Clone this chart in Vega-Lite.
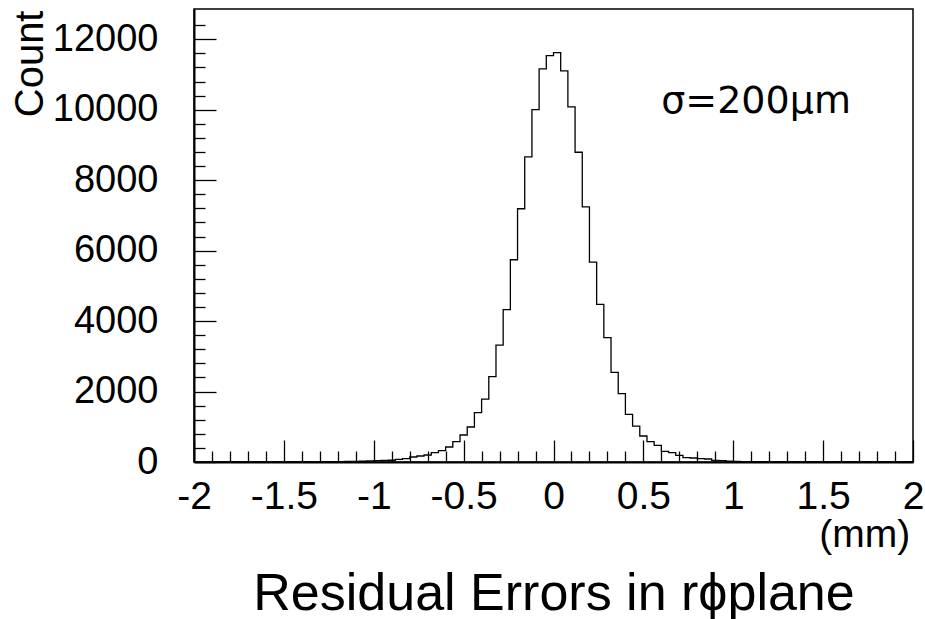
{
  "$schema": "https://vega.github.io/schema/vega-lite/v6.json",
  "width": 719,
  "height": 453,
  "autosize": "none",
  "padding": {"left": 194, "top": 9, "right": 12, "bottom": 157},
  "background": "white",
  "config": {"view": {"stroke": "black", "strokeWidth": 1.5}, "font": "Liberation Sans"},
  "layer": [
    {
      "data": {"values": [
        {"x": -2, "count": 0}, {"x": -1.96, "count": 0}, {"x": -1.92, "count": 0}, {"x": -1.88, "count": 0}, {"x": -1.84, "count": 0},
        {"x": -1.8, "count": 0}, {"x": -1.76, "count": 0}, {"x": -1.72, "count": 0}, {"x": -1.68, "count": 1}, {"x": -1.64, "count": 0},
        {"x": -1.6, "count": 1}, {"x": -1.56, "count": 1}, {"x": -1.52, "count": 2}, {"x": -1.48, "count": 1}, {"x": -1.44, "count": 2},
        {"x": -1.4, "count": 3}, {"x": -1.36, "count": 3}, {"x": -1.32, "count": 5}, {"x": -1.28, "count": 8}, {"x": -1.24, "count": 10},
        {"x": -1.2, "count": 12}, {"x": -1.16, "count": 15}, {"x": -1.12, "count": 18}, {"x": -1.08, "count": 22}, {"x": -1.04, "count": 30},
        {"x": -1, "count": 38}, {"x": -0.96, "count": 42}, {"x": -0.92, "count": 50}, {"x": -0.88, "count": 77}, {"x": -0.84, "count": 96},
        {"x": -0.8, "count": 142}, {"x": -0.76, "count": 170}, {"x": -0.72, "count": 199}, {"x": -0.68, "count": 267}, {"x": -0.64, "count": 323},
        {"x": -0.6, "count": 426}, {"x": -0.56, "count": 579}, {"x": -0.52, "count": 766}, {"x": -0.48, "count": 993}, {"x": -0.44, "count": 1401},
        {"x": -0.4, "count": 1787}, {"x": -0.36, "count": 2423}, {"x": -0.32, "count": 3319}, {"x": -0.28, "count": 4323}, {"x": -0.24, "count": 5742},
        {"x": -0.2, "count": 7189}, {"x": -0.16, "count": 8664}, {"x": -0.12, "count": 10006}, {"x": -0.08, "count": 11160}, {"x": -0.04, "count": 11538},
        {"x": 0, "count": 11620}, {"x": 0.04, "count": 11103}, {"x": 0.08, "count": 10082}, {"x": 0.12, "count": 8794}, {"x": 0.16, "count": 7245},
        {"x": 0.2, "count": 5674}, {"x": 0.24, "count": 4474}, {"x": 0.28, "count": 3529}, {"x": 0.32, "count": 2545}, {"x": 0.36, "count": 1940},
        {"x": 0.4, "count": 1353}, {"x": 0.44, "count": 1021}, {"x": 0.48, "count": 738}, {"x": 0.52, "count": 579}, {"x": 0.56, "count": 474},
        {"x": 0.6, "count": 304}, {"x": 0.64, "count": 267}, {"x": 0.68, "count": 190}, {"x": 0.72, "count": 124}, {"x": 0.76, "count": 113},
        {"x": 0.8, "count": 96}, {"x": 0.84, "count": 85}, {"x": 0.88, "count": 48}, {"x": 0.92, "count": 40}, {"x": 0.96, "count": 22},
        {"x": 1, "count": 15}, {"x": 1.04, "count": 12}, {"x": 1.08, "count": 10}, {"x": 1.12, "count": 9}, {"x": 1.16, "count": 8},
        {"x": 1.2, "count": 6}, {"x": 1.24, "count": 5}, {"x": 1.28, "count": 5}, {"x": 1.32, "count": 4}, {"x": 1.36, "count": 3},
        {"x": 1.4, "count": 2}, {"x": 1.44, "count": 2}, {"x": 1.48, "count": 1}, {"x": 1.52, "count": 1}, {"x": 1.56, "count": 1},
        {"x": 1.6, "count": 1}, {"x": 1.64, "count": 0}, {"x": 1.68, "count": 1}, {"x": 1.72, "count": 0}, {"x": 1.76, "count": 0},
        {"x": 1.8, "count": 0}, {"x": 1.84, "count": 0}, {"x": 1.88, "count": 0}, {"x": 1.92, "count": 0}, {"x": 1.96, "count": 0},
        {"x": 2, "count": 0}
      ]},
      "mark": {"type": "line", "interpolate": "step-after", "color": "black", "strokeWidth": 1.3, "clip": true},
      "encoding": {
        "x": {
          "field": "x", "type": "quantitative",
          "scale": {"domain": [-2, 2], "nice": false, "zero": false},
          "axis": {
            "values": [-2, -1.9, -1.8, -1.7, -1.6, -1.5, -1.4, -1.3, -1.2, -1.1, -1, -0.9, -0.8, -0.7, -0.6, -0.5, -0.4, -0.3, -0.2, -0.1, 0, 0.1, 0.2, 0.3, 0.4, 0.5, 0.6, 0.7, 0.8, 0.9, 1, 1.1, 1.2, 1.3, 1.4, 1.5, 1.6, 1.7, 1.8, 1.9, 2],
            "tickCount": 200,
            "tickSize": {"condition": {"test": "abs(datum.value*2 - round(datum.value*2)) < 0.001", "value": -22}, "value": -11},
            "tickColor": "black", "tickWidth": 1.3,
            "labelExpr": "abs(datum.value*2 - round(datum.value*2)) < 0.001 ? toString(datum.value) : ''",
            "labelFontSize": 39, "labelColor": "black", "labelPadding": 37, "labelFlush": false, "labelOverlap": false,
            "domainColor": "black", "domainWidth": 2, "grid": false,
            "title": "Residual Errors in rϕplane", "titleFontSize": 52, "titleFontWeight": "normal", "titleColor": "black",
            "titleX": 359.5, "titleY": 147, "titleBaseline": "alphabetic", "titleAlign": "center"
          }
        },
        "y": {
          "field": "count", "type": "quantitative",
          "scale": {"domain": [0, 12860], "nice": false, "zero": false},
          "axis": {
            "values": [0, 400, 800, 1200, 1600, 2000, 2400, 2800, 3200, 3600, 4000, 4400, 4800, 5200, 5600, 6000, 6400, 6800, 7200, 7600, 8000, 8400, 8800, 9200, 9600, 10000, 10400, 10800, 11200, 11600, 12000, 12400],
            "tickCount": 200,
            "tickSize": {"condition": {"test": "datum.value % 2000 === 0", "value": -22}, "value": -11},
            "tickColor": "black", "tickWidth": 1.3,
            "labelExpr": "datum.value % 2000 === 0 ? toString(datum.value) : ''",
            "labelFontSize": 38, "labelColor": "black", "labelPadding": 58, "labelFlush": false, "labelOverlap": false,
            "domainColor": "black", "domainWidth": 2, "grid": false,
            "title": "Count", "titleFontSize": 40, "titleFontWeight": "normal", "titleColor": "black",
            "titleX": -152, "titleY": 1, "titleAngle": -90, "titleAlign": "right", "titleBaseline": "alphabetic"
          }
        }
      }
    },
    {
      "data": {"values": [{"x": 1.127, "count": 9912, "label": "σ=200μm"}]},
      "mark": {"type": "text", "font": "DejaVu Sans", "fontSize": 38, "align": "center", "baseline": "alphabetic", "color": "black"},
      "encoding": {
        "x": {"field": "x", "type": "quantitative"},
        "y": {"field": "count", "type": "quantitative"},
        "text": {"field": "label"}
      }
    },
    {
      "data": {"values": [{"x": 1.984, "count": -2420, "label": "(mm)"}]},
      "mark": {"type": "text", "font": "Liberation Sans", "fontSize": 39, "align": "right", "baseline": "alphabetic", "color": "black"},
      "encoding": {
        "x": {"field": "x", "type": "quantitative"},
        "y": {"field": "count", "type": "quantitative"},
        "text": {"field": "label"}
      }
    }
  ]
}
